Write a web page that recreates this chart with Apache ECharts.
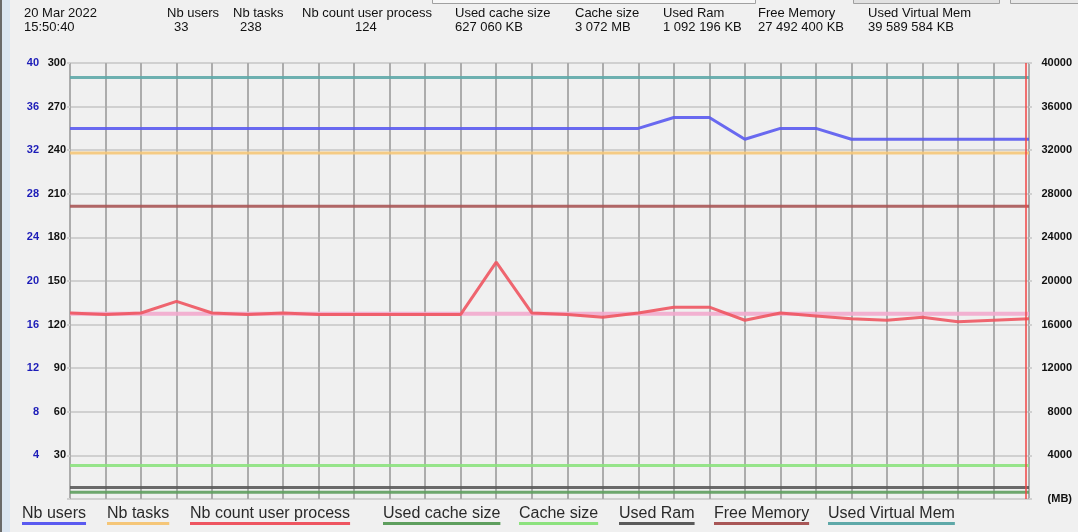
<!DOCTYPE html>
<html>
<head>
<meta charset="utf-8">
<script src="https://cdn.jsdelivr.net/npm/echarts@6/dist/echarts.min.js"></script>
<style>
html,body{margin:0;padding:0;background:#f0f0f0;}
#chart{width:1078px;height:532px;}
</style>
</head>
<body>
<div id="chart"></div>
<script>
// ---- data ----
const sampleIndex = [0,1,2,3,4,5,6,7,8,9,10,11,12,13,14,15,16,17,18,19,20,21,22,23,24,25,26,27];
const nbUsers = [34,34,34,34,34,34,34,34,34,34,34,34,34,34,34,34,34,35,35,33,34,34,33,33,33,33,33,33];
const nbTasks = [238,238,238,238,238,238,238,238,238,238,238,238,238,238,238,238,238,238,238,238,238,238,238,238,238,238,238,238];
const nbCountUserProcess = [128,127,128,136,128,127,128,127,127,127,127,127,163,128,127,125,128,132,132,123,128,126,124,123,125,122,123,124];
const usedCacheSizeMB = [612,612,612,612,612,612,612,612,612,612,612,612,612,612,612,612,612,612,612,612,612,612,612,612,612,612,612,612];
const cacheSizeMB = [3072,3072,3072,3072,3072,3072,3072,3072,3072,3072,3072,3072,3072,3072,3072,3072,3072,3072,3072,3072,3072,3072,3072,3072,3072,3072,3072,3072];
const usedRamMB = [1066,1066,1066,1066,1066,1066,1066,1066,1066,1066,1066,1066,1066,1066,1066,1066,1066,1066,1066,1066,1066,1066,1066,1066,1066,1066,1066,1066];
const freeMemoryMB = [26848,26848,26848,26848,26848,26848,26848,26848,26848,26848,26848,26848,26848,26848,26848,26848,26848,26848,26848,26848,26848,26848,26848,26848,26848,26848,26848,26848];
const usedVirtualMemMB = [38662,38662,38662,38662,38662,38662,38662,38662,38662,38662,38662,38662,38662,38662,38662,38662,38662,38662,38662,38662,38662,38662,38662,38662,38662,38662,38662,38662];
const referenceMB = [17000,17000,17000,17000,17000,17000,17000,17000,17000,17000,17000,17000,17000,17000,17000,17000,17000,17000,17000,17000,17000,17000,17000,17000,17000,17000,17000,17000];
const cursorIndex = 26.9;

const headerDate = '20 Mar 2022';
const headerTime = '15:50:40';
const headerLabels = ['Nb users','Nb tasks','Nb count user process','Used cache size','Cache size','Used Ram','Free Memory','Used Virtual Mem'];
const headerValues = ['33','238','124','627 060 KB','3 072 MB','1 092 196 KB','27 492 400 KB','39 589 584 KB'];
const legendNames = ['Nb users','Nb tasks','Nb count user process','Used cache size','Cache size','Used Ram','Free Memory','Used Virtual Mem'];

const leftTicksBlack = {min:0, max:300, interval:30};
const leftTicksBlue = {min:0, max:40, interval:4};
const rightTicksMB = {min:0, max:40000, interval:4000};

// ---- styles ----
const FONT = '"Liberation Sans", Arial, sans-serif';
const colors = {
  'Nb users':'#5a5af0',
  'Nb tasks':'#f5c678',
  'Nb count user process':'#ee5560',
  'Used cache size':'#5e9e5e',
  'Cache size':'#8ce27e',
  'Used Ram':'#5a5a5a',
  'Free Memory':'#a85656',
  'Used Virtual Mem':'#5ea8a8',
  'Reference':'#f2aacd'
};
const headerLabelX = [167,233,302,455,575,663,758,868];
const headerValueX = [174,240,355,455,575,663,758,868];
const legendX = [22,107,190,383,519,619,714,828];

const pairs = arr => sampleIndex.map((x,i)=>[x,arr[i]]);

function lineSeries(name, data, yAxisIndex, extra){
  return Object.assign({
    name, type:'line', data:pairs(data), yAxisIndex,
    symbol:'none', silent:true,
    lineStyle:{color:colors[name], width:3, opacity:0.9},
    itemStyle:{color:colors[name]}
  }, extra||{});
}

const series = [
  lineSeries('Reference', referenceMB, 2, {lineStyle:{color:colors['Reference'], width:4, opacity:0.9}, z:1}),
  lineSeries('Used Virtual Mem', usedVirtualMemMB, 2),
  lineSeries('Free Memory', freeMemoryMB, 2),
  lineSeries('Used Ram', usedRamMB, 2),
  lineSeries('Used cache size', usedCacheSizeMB, 2),
  lineSeries('Cache size', cacheSizeMB, 2),
  lineSeries('Nb tasks', nbTasks, 0),
  lineSeries('Nb users', nbUsers, 1),
  lineSeries('Nb count user process', nbCountUserProcess, 0, {
    markLine:{
      silent:true, symbol:'none', label:{show:false},
      lineStyle:{color:'rgba(240,70,70,0.75)', width:2, type:'solid'},
      data:[{xAxis:cursorIndex}]
    }
  })
];

// ---- graphics: header, legend, window chrome ----
const measureCanvas = document.createElement('canvas').getContext('2d');
function textWidth(t, font){ measureCanvas.font = font; return measureCanvas.measureText(t).width; }

const graphics = [];
graphics.push({type:'rect', left:0, top:0, shape:{width:2, height:532}, style:{fill:'#6a6a6a'}, silent:true});
graphics.push({type:'rect', left:2, top:0, shape:{width:8, height:532}, style:{fill:'#dbe6f2'}, silent:true});
graphics.push({type:'rect', left:432, top:-2, shape:{width:323, height:5}, style:{fill:'#f7f7f7', stroke:'#a0a0a0', lineWidth:1}, silent:true});
graphics.push({type:'rect', left:853, top:-2, shape:{width:146, height:5}, style:{fill:'#e1e1e1', stroke:'#a0a0a0', lineWidth:1}, silent:true});
graphics.push({type:'rect', left:1010, top:-2, shape:{width:70, height:5}, style:{fill:'#e8e8e8', stroke:'#a0a0a0', lineWidth:1}, silent:true});

const hdrFont = {fontFamily:FONT, fontSize:13, fill:'#111', verticalAlign:'middle'};
graphics.push({type:'text', x:24, y:13, style:Object.assign({text:headerDate}, hdrFont), silent:true});
graphics.push({type:'text', x:24, y:27.5, style:Object.assign({text:headerTime}, hdrFont), silent:true});
headerLabels.forEach((t,i)=>{
  graphics.push({type:'text', x:headerLabelX[i], y:13, style:Object.assign({text:t}, hdrFont), silent:true});
  graphics.push({type:'text', x:headerValueX[i], y:27.5, style:Object.assign({text:headerValues[i]}, hdrFont), silent:true});
});

legendNames.forEach((t,i)=>{
  const w = textWidth(t, '16px ' + FONT);
  graphics.push({type:'text', x:legendX[i], y:514, style:{text:t, fontFamily:FONT, fontSize:16, fill:'#2a2a2a', verticalAlign:'middle'}, silent:true});
  graphics.push({type:'rect', x:legendX[i], y:522, shape:{width:w, height:3}, style:{fill:colors[t]}, silent:true});
});

const chart = echarts.init(document.getElementById('chart'), null, {renderer:'canvas'});
chart.setOption({
  backgroundColor:'#f0f0f0',
  animation:false,
  textStyle:{fontFamily:FONT},
  grid:{left:70, right:49, top:63, bottom:33, containLabel:false},
  xAxis:{
    type:'value', min:0, max:sampleIndex.length-1, interval:1,
    axisLabel:{show:false}, axisTick:{show:false},
    axisLine:{show:false},
    splitLine:{show:true, lineStyle:{color:'#acacac', width:2}}
  },
  yAxis:[
    {
      type:'value', position:'left', min:leftTicksBlack.min, max:leftTicksBlack.max, interval:leftTicksBlack.interval,
      axisLine:{show:false},
      axisTick:{show:true, length:3, lineStyle:{color:'#d0d0d0', width:2}},
      axisLabel:{color:'#111', fontWeight:'bold', fontSize:11, margin:4, fontFamily:FONT,
        formatter:v=> v===0 ? '' : String(v)},
      splitLine:{show:true, lineStyle:{color:'#d0d0d0', width:2}}
    },
    {
      type:'value', position:'left', offset:27, min:leftTicksBlue.min, max:leftTicksBlue.max, interval:leftTicksBlue.interval,
      axisLine:{show:false}, axisTick:{show:false},
      axisLabel:{color:'#1c1cb8', fontWeight:'bold', fontSize:11, margin:4, fontFamily:FONT,
        formatter:v=> v===0 ? '' : String(v)},
      splitLine:{show:false}
    },
    {
      type:'value', position:'right', min:rightTicksMB.min, max:rightTicksMB.max, interval:rightTicksMB.interval,
      axisLine:{show:false},
      axisTick:{show:true, length:3, lineStyle:{color:'#d0d0d0', width:2}},
      axisLabel:{color:'#111', fontWeight:'bold', fontSize:11, margin:43, align:'right', fontFamily:FONT,
        formatter:v=> v===0 ? '(MB)' : String(v)},
      splitLine:{show:false}
    }
  ],
  series,
  graphic:graphics
});
</script>
</body>
</html>
